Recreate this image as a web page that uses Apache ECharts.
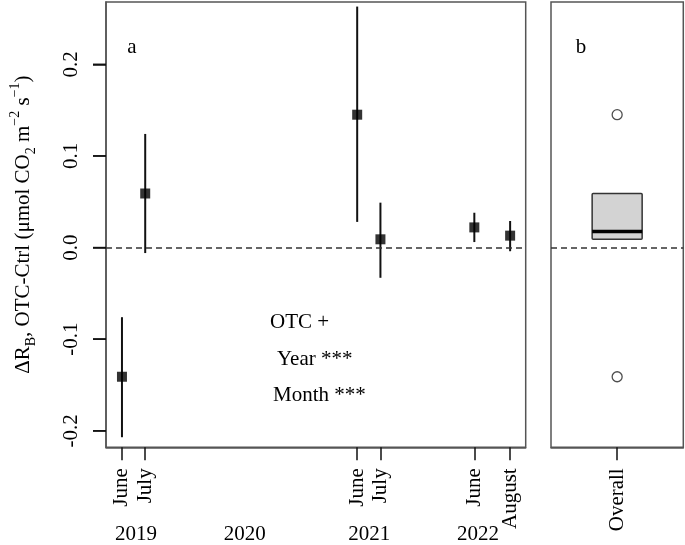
<!DOCTYPE html>
<html>
<head>
<meta charset="utf-8">
<script src="https://cdn.jsdelivr.net/npm/echarts@6.0.0/dist/echarts.min.js"></script>
<style>
html,body{margin:0;padding:0;background:#fff;}
#chart{width:685px;height:545px;}
</style>
</head>
<body>
<div id="chart"></div>
<script>
// ---- data ----
const months = ['June', 'July', 'June', 'July', 'June', 'August'];
const sampleYears = ['2019', '2019', '2021', '2021', '2022', '2022'];
const xPos = [0, 1, 10.12, 11.12, 15.16, 16.7];          // sampling position on time axis
const meanDiff = [-0.141, 0.059, 0.145, 0.009, 0.022, 0.013];
const lowerCI = [-0.207, -0.006, 0.028, -0.033, 0.006, -0.004];
const upperCI = [-0.076, 0.124, 0.263, 0.049, 0.038, 0.029];
const yearLabels = ['2019', '2020', '2021', '2022'];
const yearPos = [0.6, 5.28, 10.64, 15.32];
const yTicks = [-0.2, -0.1, 0.0, 0.1, 0.2];
const overallCat = ['Overall'];
const statsText = ['OTC +', 'Year ***', 'Month ***'];

// ---- boxplot statistics (R style fivenum + 1.5 IQR) ----
function boxStats(vals) {
  const s = vals.slice().sort((a, b) => a - b);
  const n = s.length;
  const med = arr => { const m = arr.length; return m % 2 ? arr[(m - 1) / 2] : (arr[m / 2 - 1] + arr[m / 2]) / 2; };
  const half = Math.floor((n + 1) / 2);
  const q1 = med(s.slice(0, half));
  const q3 = med(s.slice(n - half));
  const md = med(s);
  const iqr = q3 - q1;
  const lo = s.filter(v => v >= q1 - 1.5 * iqr)[0];
  const hiArr = s.filter(v => v <= q3 + 1.5 * iqr);
  const hi = hiArr[hiArr.length - 1];
  const out = s.filter(v => v < q1 - 1.5 * iqr || v > q3 + 1.5 * iqr);
  return { lo, q1, md, q3, hi, out };
}
const bs = boxStats(meanDiff);

const FONT = 'Liberation Serif';
const YMIN = -0.218, YMAX = 0.268;
const XMIN = -0.687, XMAX = 17.37;

const chart = echarts.init(document.getElementById('chart'));

const option = {
  backgroundColor: '#fff',
  animation: false,
  textStyle: { fontFamily: FONT },
  grid: [
    { left: 105, top: 2, width: 420.7, bottom: 97.7, show: true, borderColor: '#555', borderWidth: 1.5, containLabel: false },
    { left: 551, top: 2, width: 132.3, bottom: 97.7, show: true, borderColor: '#555', borderWidth: 1.5, containLabel: false }
  ],
  xAxis: [
    {
      type: 'value', gridIndex: 0, min: XMIN, max: XMAX,
      splitLine: { show: false },
      axisLine: { show: true, onZero: false, lineStyle: { color: '#555', width: 1.5 } },
      axisTick: { show: true, length: 13, customValues: xPos, lineStyle: { color: '#111', width: 1.5 } },
      axisLabel: {
        customValues: xPos, rotate: 90, margin: 21,
        fontFamily: FONT, fontSize: 21, color: '#000',
        formatter: v => { const i = xPos.findIndex(p => Math.abs(p - v) < 1e-6); return i >= 0 ? months[i] : ''; }
      }
    },
    {
      type: 'category', gridIndex: 1, data: overallCat,
      axisLine: { show: true, onZero: false, lineStyle: { color: '#555', width: 1.5 } },
      axisTick: { show: true, length: 13, alignWithLabel: true, lineStyle: { color: '#111', width: 1.5 } },
      axisLabel: { rotate: 90, margin: 21, fontFamily: FONT, fontSize: 21, color: '#000' }
    }
  ],
  yAxis: [
    {
      type: 'value', gridIndex: 0, min: YMIN, max: YMAX,
      splitLine: { show: false },
      axisLine: { show: true, onZero: false, lineStyle: { color: '#555', width: 1.5 } },
      axisTick: { show: true, length: 13, customValues: yTicks, lineStyle: { color: '#111', width: 1.5 } },
      axisLabel: {
        customValues: yTicks, rotate: 90, margin: 24,
        fontFamily: FONT, fontSize: 21, color: '#000',
        formatter: v => v.toFixed(1)
      },
      name: '{n|ΔR}{sub|B}{n|, OTC-Ctrl (μmol CO}{sub|2}{n| m}{sup|−2}{n| s}{sup|−1}{n|)}',
      nameLocation: 'middle', nameRotate: 90, nameGap: 68,
      nameTextStyle: {
        fontFamily: FONT, fontSize: 21, color: '#000',
        rich: {
          n: { fontFamily: FONT, fontSize: 21, color: '#000', lineHeight: 30, verticalAlign: 'middle' },
          sub: { fontFamily: FONT, fontSize: 14, color: '#000', lineHeight: 30, verticalAlign: 'bottom' },
          sup: { fontFamily: FONT, fontSize: 14, color: '#000', lineHeight: 30, verticalAlign: 'top' }
        }
      }
    },
    {
      type: 'value', gridIndex: 1, min: YMIN, max: YMAX,
      splitLine: { show: false }, axisLine: { show: false, onZero: false },
      axisTick: { show: false }, axisLabel: { show: false }
    }
  ],
  series: [
    {
      type: 'custom', xAxisIndex: 0, yAxisIndex: 0,
      data: xPos.map((x, i) => [x, lowerCI[i], upperCI[i]]),
      renderItem: (params, api) => {
        const p1 = api.coord([api.value(0), api.value(1)]);
        const p2 = api.coord([api.value(0), api.value(2)]);
        return { type: 'line', shape: { x1: p1[0], y1: p1[1], x2: p2[0], y2: p2[1] }, style: { stroke: '#111', lineWidth: 2 } };
      },
      z: 2
    },
    {
      type: 'scatter', xAxisIndex: 0, yAxisIndex: 0,
      data: xPos.map((x, i) => [x, meanDiff[i]]),
      symbol: 'rect', symbolSize: 10,
      itemStyle: { color: '#000' },
      z: 3,
      markLine: {
        silent: true, symbol: 'none', label: { show: false },
        lineStyle: { type: [6, 4], color: '#333', width: 1.5 },
        data: [{ yAxis: 0 }]
      }
    },
    {
      type: 'custom', xAxisIndex: 1, yAxisIndex: 1,
      data: [[0, bs.lo, bs.q1, bs.md, bs.q3, bs.hi]],
      renderItem: (params, api) => {
        const c = api.coord([0, api.value(3)]);
        const xc = c[0];
        const hw = 25;
        const yq1 = api.coord([0, api.value(2)])[1];
        const yq3 = api.coord([0, api.value(4)])[1];
        const ylo = api.coord([0, api.value(1)])[1];
        const yhi = api.coord([0, api.value(5)])[1];
        return {
          type: 'group',
          children: [
            { type: 'line', shape: { x1: xc, y1: yq3, x2: xc, y2: yhi }, style: { stroke: '#222', lineWidth: 1.5 } },
            { type: 'line', shape: { x1: xc, y1: yq1, x2: xc, y2: ylo }, style: { stroke: '#222', lineWidth: 1.5 } },
            { type: 'rect', shape: { x: xc - hw, y: yq3, width: 2 * hw, height: yq1 - yq3, r: 1 }, style: { fill: '#d3d3d3', stroke: '#333', lineWidth: 1.5 } },
            { type: 'line', shape: { x1: xc - hw, y1: c[1], x2: xc + hw, y2: c[1] }, style: { stroke: '#000', lineWidth: 3.5 } }
          ]
        };
      },
      z: 2
    },
    {
      type: 'scatter', xAxisIndex: 1, yAxisIndex: 1,
      data: bs.out.map(v => [0, v]),
      symbol: 'circle', symbolSize: 10,
      itemStyle: { color: '#fff', borderColor: '#222', borderWidth: 1.3 },
      z: 3,
      markLine: {
        silent: true, symbol: 'none', label: { show: false },
        lineStyle: { type: [6, 4], color: '#333', width: 1.5 },
        data: [{ yAxis: 0 }]
      }
    }
  ]
};
chart.setOption(option);

// y-axis tick marks, positioned through the y scale
const axisLeftPx = chart.convertToPixel({ xAxisIndex: 0 }, XMIN);
const yTickGraphics = yTicks.map(v => {
  const py = chart.convertToPixel({ yAxisIndex: 0 }, v);
  return {
    type: 'line', z: 100,
    shape: { x1: axisLeftPx - 13, y1: py, x2: axisLeftPx, y2: py },
    style: { stroke: '#111', lineWidth: 1.5 }
  };
});
// year labels under the month labels, placed through the x scale
const yearGraphics = yearLabels.map((y, i) => ({
  type: 'text',
  x: chart.convertToPixel({ xAxisIndex: 0 }, yearPos[i]),
  y: 534,
  style: { text: y, fontFamily: FONT, fontSize: 21, fill: '#000', align: 'center', verticalAlign: 'middle' }
}));
const annot = [
  { type: 'text', x: 132, y: 47, style: { text: 'a', fontFamily: FONT, fontSize: 21, fill: '#000', align: 'center', verticalAlign: 'middle' } },
  { type: 'text', x: 581, y: 47, style: { text: 'b', fontFamily: FONT, fontSize: 21, fill: '#000', align: 'center', verticalAlign: 'middle' } },
  { type: 'text', x: 270, y: 322, style: { text: statsText[0], fontFamily: FONT, fontSize: 21, fill: '#000', align: 'left', verticalAlign: 'middle' } },
  { type: 'text', x: 277, y: 359, style: { text: statsText[1], fontFamily: FONT, fontSize: 21, fill: '#000', align: 'left', verticalAlign: 'middle' } },
  { type: 'text', x: 273, y: 395, style: { text: statsText[2], fontFamily: FONT, fontSize: 21, fill: '#000', align: 'left', verticalAlign: 'middle' } }
];
chart.setOption({ graphic: yTickGraphics.concat(yearGraphics, annot) });
</script>
</body>
</html>
